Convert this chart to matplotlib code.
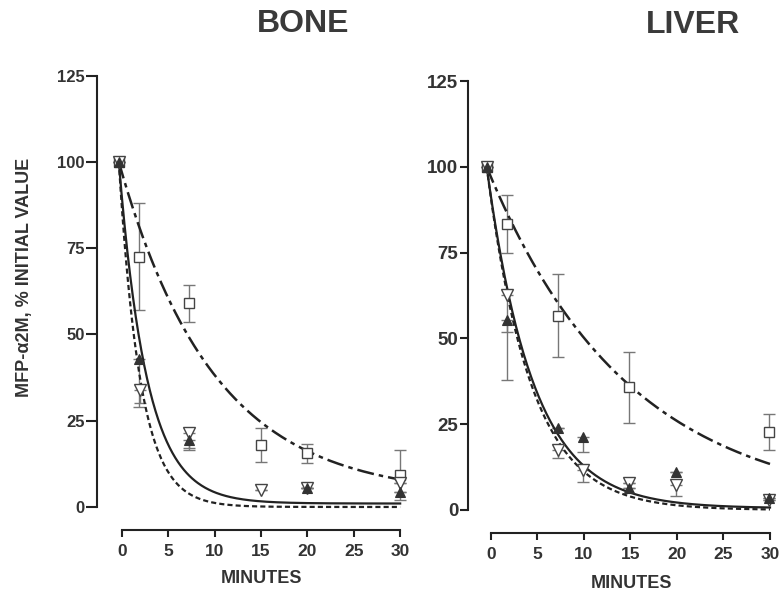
import numpy as np
import matplotlib
matplotlib.use("Agg")
import matplotlib.pyplot as plt

plt.rcParams['font.family'] = ['Liberation Sans', 'DejaVu Sans']
plt.rcParams['font.weight'] = 'bold'

TXT = '#333333'
LINE = '#222222'
ERR = '#777777'

# ---------------- BONE ----------------
bone_t_sq = [-0.35, 1.8, 7.2, 15.0, 19.9, 30.0]
bone_sq = [100, 72.5, 59, 18, 15.6, 9.3]
bone_sq_lo = [0, 15.5, 5.5, 5, 2.8, 7.3]
bone_sq_hi = [0, 15.5, 5.3, 4.9, 2.7, 7.2]

bone_t_up = [-0.35, 1.85, 7.2, 19.9, 30.0]
bone_up = [100, 43, 19.4, 5.5, 4.3]
bone_up_lo = [0, 14, 2.4, 0, 0]

bone_t_dn = [-0.35, 1.9, 7.2, 15.0, 19.9, 30.0]
bone_dn = [100, 34, 21.5, 5, 5.5, 7]
bone_dn_lo = [0, 4, 5, 0, 0, 0]

# fitted decay curves: (plateau, rate constant per minute)
bone_fit_sq = (3.0, 0.098)
bone_fit_up = (1.0, 0.33)
bone_fit_dn = (0.0, 0.43)
bone_t0 = -0.35

# ---------------- LIVER ----------------
liver_t_sq = [-0.43, 1.7, 7.2, 14.9, 29.9]
liver_sq = [100, 83.3, 56.6, 36, 22.8]
liver_sq_lo = [0, 8.3, 12.1, 10.5, 5.3]
liver_sq_hi = [0, 8.5, 12.1, 10.2, 5.2]

liver_t_up = [-0.43, 1.7, 7.2, 9.95, 14.9, 19.95, 29.9]
liver_up = [100, 55.4, 24, 21.4, 6.5, 11.2, 3.5]
liver_up_lo = [0, 17.5, 0, 4.4, 0, 0, 0]

liver_t_dn = [-0.43, 1.7, 7.2, 9.95, 14.9, 19.95, 29.9]
liver_dn = [100, 62.7, 17.5, 11.7, 8, 7.3, 3]
liver_dn_lo = [0, 10.7, 2.3, 3.4, 0, 3.3, 0]

liver_fit_sq = (0.0, 0.066)
liver_fit_up = (0.5, 0.20)
liver_fit_dn = (0.0, 0.21)
liver_t0 = -0.43

y_ticks = [0, 25, 50, 75, 100, 125]
x_ticks = [0, 5, 10, 15, 20, 25, 30]


def decay(t, t0, fit):
    p, k = fit
    return p + (100 - p) * np.exp(-k * (t - t0))


fig = plt.figure(figsize=(7.8, 5.92), dpi=100)

axL = fig.add_axes([0.1244, 0.1046, 0.4005, 0.7791])
axR = fig.add_axes([0.6000, 0.0997, 0.3991, 0.7747])

LW = 1.6


def panel(ax, t0, fits, sq, up, dn, ylab_size, ytick_len):
    t = np.linspace(t0, 30, 300)
    ax.plot(t, decay(t, t0, fits[0]), color=LINE, lw=1.8,
            dashes=[6.8, 2.0, 1.8, 2.0], zorder=2)
    ax.plot(t, decay(t, t0, fits[1]), color=LINE, lw=LW, zorder=2)
    ax.plot(t, decay(t, t0, fits[2]), color=LINE, lw=LW,
            dashes=[2.3, 1.4], zorder=2)

    ts, ys, lo, hi = sq
    ax.errorbar(ts, ys, yerr=[lo, hi], fmt='none', ecolor=ERR,
                elinewidth=1.0, capsize=4, capthick=1.0, zorder=1)
    tu, yu, lu = up
    ax.errorbar(tu, yu, yerr=[lu, [0] * len(lu)], fmt='none', ecolor=ERR,
                elinewidth=1.0, capsize=4, capthick=1.0, zorder=1)
    td, yd, ld = dn
    ax.errorbar(td, yd, yerr=[ld, [0] * len(ld)], fmt='none', ecolor=ERR,
                elinewidth=1.0, capsize=4, capthick=1.0, zorder=1)

    ax.plot(ts, ys, linestyle='none', marker='s', ms=7.5, mfc='white',
            mec='#444444', mew=1.0, zorder=4)
    ax.plot(td, yd, linestyle='none', marker='v', ms=8, mfc='white',
            mec='#444444', mew=1.0, zorder=4)
    ax.plot(tu, yu, linestyle='none', marker='^', ms=7, mfc='#333333',
            mec='#333333', mew=0.8, zorder=5)

    ax.set_ylim(-6.7, 127)
    ax.spines['top'].set_visible(False)
    ax.spines['right'].set_visible(False)
    ax.spines['left'].set_bounds(0, 125)
    ax.spines['bottom'].set_bounds(0, 30)
    for s in ('left', 'bottom'):
        ax.spines[s].set_linewidth(1.5)
        ax.spines[s].set_color('#222222')
    ax.set_yticks(y_ticks)
    ax.set_xticks(x_ticks)
    ax.tick_params(axis='y', direction='out', length=ytick_len, width=1.5,
                   pad=1, labelsize=ylab_size, colors='#222222',
                   labelcolor=TXT)
    ax.tick_params(axis='x', direction='out', length=5, width=1.5, pad=5,
                   labelsize=12.5, colors='#222222', labelcolor=TXT)
    for lab in ax.get_xticklabels() + ax.get_yticklabels():
        lab.set_fontweight('bold')
    ax.patch.set_alpha(0)


panel(axL, bone_t0, (bone_fit_sq, bone_fit_up, bone_fit_dn),
      (bone_t_sq, bone_sq, bone_sq_lo, bone_sq_hi),
      (bone_t_up, bone_up, bone_up_lo),
      (bone_t_dn, bone_dn, bone_dn_lo), 12, 8)
axL.set_xlim(-2.7, 31)

panel(axR, liver_t0, (liver_fit_sq, liver_fit_up, liver_fit_dn),
      (liver_t_sq, liver_sq, liver_sq_lo, liver_sq_hi),
      (liver_t_up, liver_up, liver_up_lo),
      (liver_t_dn, liver_dn, liver_dn_lo), 13.5, 6)
axR.set_xlim(-2.44, 31)

fig.text(0.389, 0.960, 'BONE', ha='center', va='center', fontsize=23,
         fontweight='bold', color='#3a3a3a')
fig.text(0.888, 0.958, 'LIVER', ha='center', va='center', fontsize=23,
         fontweight='bold', color='#3a3a3a')
fig.text(0.335, 0.022, 'MINUTES', ha='center', va='center', fontsize=13,
         fontweight='bold', color=TXT)
fig.text(0.809, 0.014, 'MINUTES', ha='center', va='center', fontsize=13,
         fontweight='bold', color=TXT)
fig.text(0.032, 0.532, 'MFP-\u03b12M, % INITIAL VALUE', rotation=90,
         ha='center', va='center', fontsize=13, fontweight='bold', color=TXT)

fig.savefig('out.png', dpi=100)
